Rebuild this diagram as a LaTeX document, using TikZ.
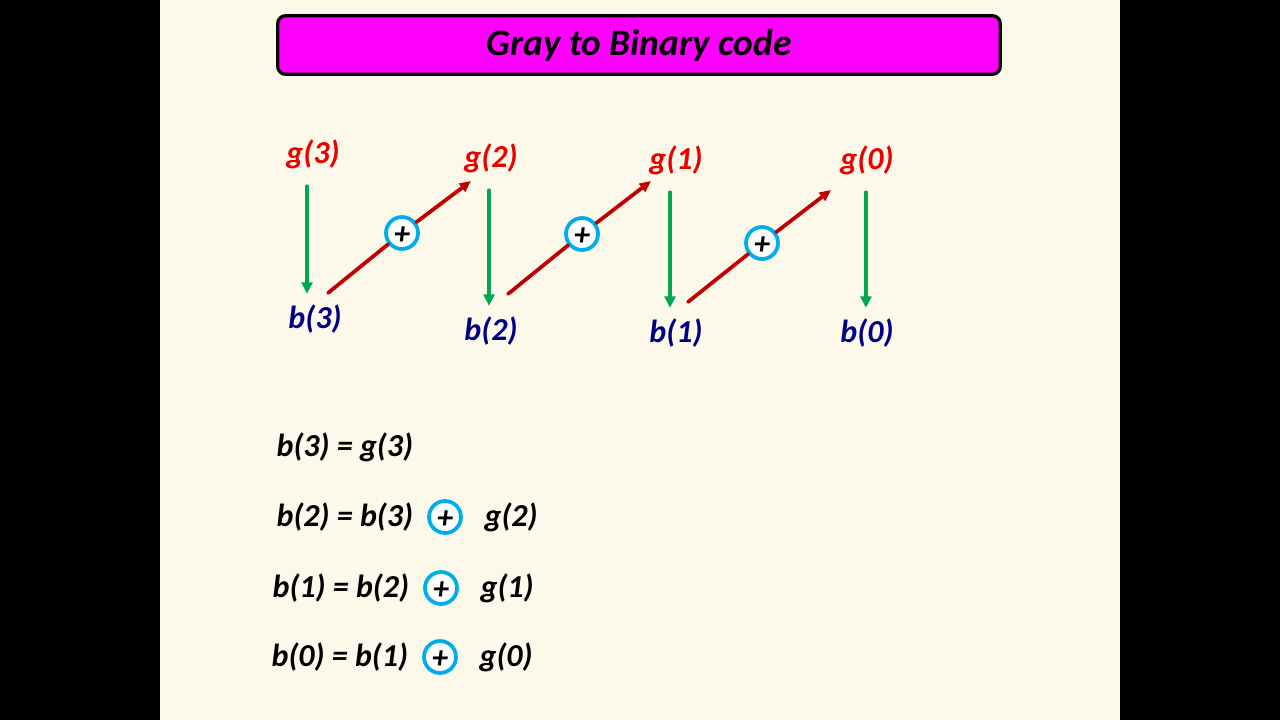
\documentclass[tikz,border=0pt]{standalone}
\usepackage{fontspec}
\setmainfont{Carlito}
\usetikzlibrary{arrows.meta}
\definecolor{slidecream}{RGB}{252,249,234}
\definecolor{titlemag}{RGB}{255,0,255}
\definecolor{gred}{RGB}{235,0,0}
\definecolor{bnavy}{RGB}{0,0,135}
\definecolor{arrgreen}{RGB}{0,166,80}
\definecolor{arrred}{RGB}{192,0,0}
\definecolor{xcyan}{RGB}{0,172,236}

\begin{document}
\begin{tikzpicture}[x=0.75pt,y=-0.75pt,line cap=round,line join=round,
  every node/.style={inner sep=1pt,font=\fontsize{24}{28}\selectfont\bfseries\itshape},
  titlebox/.style={draw=black,line width=2.4pt,fill=titlemag,rounded corners=6pt,
    minimum width=542pt,minimum height=44pt,font=\fontsize{28}{32}\selectfont\bfseries\itshape},
  glab/.style={text=gred},
  blab/.style={text=bnavy},
  xorop/.style={circle,draw=xcyan,line width=2.8pt,fill=white,minimum size=24pt,inner sep=0pt,
    text height=17pt,text depth=0pt,font=\fontsize{24}{24}\selectfont\bfseries\itshape},
  garr/.style={draw=arrgreen,line width=2.6pt,-{Triangle[length=8.5pt,width=8pt]},
    shorten <=12pt,shorten >=7pt},
  rarr/.style={draw=arrred,line width=2.8pt},
  eqn/.style={anchor=west}]
  \useasboundingbox (0,0) rectangle (1280,720);
  \fill[black] (0,0) rectangle (1280,720);
  \fill[slidecream] (160,0) rectangle (1120,720);

  \node[titlebox] (title) at (639,45) {Gray to Binary code};

  % gray bits on top, binary bits below
  \foreach \i/\gx/\gy/\bx/\by/\dx in {3/313/154/315/319/-4.5, 2/491/158/491/331/-1.5, 1/676/160/676/333/-4.5, 0/867/160/867/333/-0.8} {
    \node[glab] (g\i) at (\gx,\gy) {g(\i)};
    \node[blab] (b\i) at (\bx,\by) {b(\i)};
    \draw[garr] ([xshift=\dx pt]g\i.south) -- ([xshift=\dx pt]g\i.south |- b\i.north);
  }

  % xor chain b(i) -> g(i-1)
  \foreach \i/\j/\sx/\sy/\cx/\cy/\ex/\ey in {3/2/328/293/402/233/471/181, 2/1/508/294/582/234/651/181, 1/0/688/302/762/243/831/190} {
    \coordinate (s\i) at (\sx,\sy);
    \coordinate (e\j) at (\ex,\ey);
    \node[xorop] (x\i) at (\cx,\cy) {+};
    \draw[rarr] (s\i) -- (x\i);
    \draw[rarr,-{Triangle[length=8.5pt,width=7.5pt]}] (x\i) -- (e\j);
  }

  % equations
  \node[eqn] (q3) at (275,447) {b(3) = g(3)};
  \foreach \i/\k/\y/\lx/\ox/\rx in {2/3/517/275/445/483, 1/2/588/271/441/479, 0/1/657/270/440/478} {
    \node[eqn] (q\i) at (\lx,\y) {b(\i) = b(\k)};
    \node[xorop] (o\i) at (\ox,\y) {+};
    \node[eqn] (r\i) at (\rx,\y) {g(\i)};
  }
\end{tikzpicture}
\end{document}
